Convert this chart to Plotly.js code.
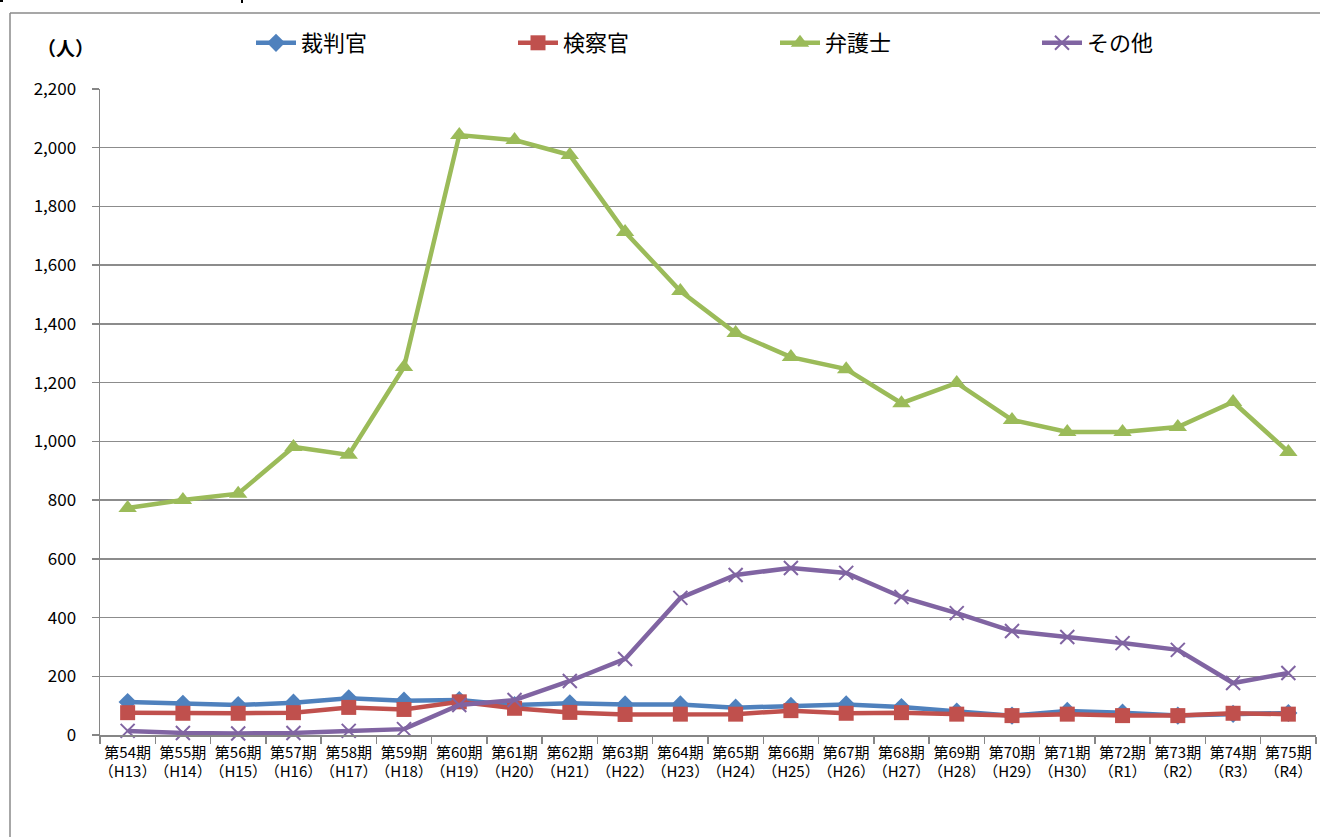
<!DOCTYPE html>
<html>
<head>
<meta charset="utf-8">
<script src="https://cdn.plot.ly/plotly-3.0.1.min.js"></script>
<style>html,body{margin:0;padding:0;background:#fff;}#chart{width:1320px;height:837px;}</style>
</head>
<body>
<div id="chart"></div>
<script>
const terms = ["第54期","第55期","第56期","第57期","第58期","第59期","第60期","第61期","第62期","第63期","第64期","第65期","第66期","第67期","第68期","第69期","第70期","第71期","第72期","第73期","第74期","第75期"];
const years = ["（H13）","（H14）","（H15）","（H16）","（H17）","（H18）","（H19）","（H20）","（H21）","（H22）","（H23）","（H24）","（H25）","（H26）","（H27）","（H28）","（H29）","（H30）","（R1）","（R2）","（R3）","（R4）"];
const judges      = [112,106,102,110,125,117,119,102,108,104,104,93,99,104,95,80,66,82,76,66,72,75];
const prosecutors = [76,74,74,76,94,87,113,91,77,70,71,71,83,74,76,71,66,71,66,66,74,71];
const lawyers     = [773,800,822,981,954,1253,2043,2026,1975,1713,1512,1369,1287,1246,1130,1199,1073,1032,1032,1049,1134,964];
const others      = [14,7,5,7,14,20,102,119,184,259,467,545,569,552,470,415,354,334,313,290,177,211];
const seriesNames = ["裁判官","検察官","弁護士","その他"];
const yTicks = [0,200,400,600,800,1000,1200,1400,1600,1800,2000,2200];

const font = '"Noto Sans CJK JP", "Noto Sans", sans-serif';
const x = terms.map((t,i)=> t + "<br>" + years[i]);

function tr(name, y, color, symbol, size){
  return {type:'scatter', mode:'lines+markers', name:name, x:x, y:y,
    line:{color:color, width:4.5},
    marker:{color:color, symbol:symbol, size:size, line:{color:color, width: symbol==='x-thin'?2:0}},
    cliponaxis:false};
}
const data = [
  tr(seriesNames[0], judges, '#4F81BD', 'diamond', 14),
  tr(seriesNames[1], prosecutors, '#C0504D', 'square', 15),
  tr(seriesNames[2], lawyers, '#9BBB59', 'triangle-up', 16),
  tr(seriesNames[3], others, '#8064A2', 'x-thin', 14)
];

const layout = {
  width:1320, height:837,
  margin:{l:100, r:4, t:89, b:102, autoexpand:false},
  paper_bgcolor:'#fff', plot_bgcolor:'#fff',
  font:{family:font, color:'#000'},
  showlegend:true,
  legend:{orientation:'h', xref:'container', yref:'container', x:251/1320, y:1-22/837, xanchor:'left', yanchor:'top',
    font:{size:22, family:font, color:'#000'}, entrywidth:207, entrywidthmode:'pixels', bgcolor:'rgba(0,0,0,0)',
    itemwidth:40, borderwidth:0},
  xaxis:{type:'category', tickmode:'array', tickvals:x, ticktext:x,
    showline:true, linecolor:'#868686', linewidth:1.5, ticks:'outside', ticklen:7, tickcolor:'#868686', tickwidth:1.5,
    tickson:'boundaries', showgrid:false, tickfont:{size:15, family:font, color:'#000'}, tickangle:0,
    ticklabelstandoff:3, range:[-0.5, 21.5], fixedrange:true},
  yaxis:{range:[0,2200], tickmode:'array', tickvals:yTicks, ticktext:yTicks.map(v=>v.toLocaleString('en-US')),
    showline:true, linecolor:'#868686', linewidth:1.5, ticks:'outside', ticklen:7, tickcolor:'#868686', tickwidth:1.5,
    showgrid:true, gridcolor:'#8c8c8c', gridwidth:1.5, zeroline:false,
    tickfont:{size:17, family:font, color:'#000'}, ticklabelstandoff:12, fixedrange:true},
  annotations:[{xref:'paper', yref:'paper', x:(65-100)/1216, y:1+(89-48)/646, text:'<b>（人）</b>', showarrow:false,
    font:{size:19, family:font, color:'#000'}, xanchor:'center', yanchor:'middle'}],
  shapes:[
    {type:'line', xref:'paper', yref:'paper', x0:-90/1216, x1:1.01, y0:1+76/646, y1:1+76/646, line:{color:'#8a8a8a', width:1.5}},
    {type:'line', xref:'paper', yref:'paper', x0:-90/1216, x1:-90/1216, y0:1+76/646, y1:-102/646-0.01, line:{color:'#8a8a8a', width:1.5}},
    {type:'line', xref:'paper', yref:'paper', x0:-100/1216, x1:-97/1216, y0:1+88/646, y1:1+88/646, line:{color:'#000', width:2}},
    {type:'line', xref:'paper', yref:'paper', x0:142/1216, x1:142/1216, y0:1+89/646, y1:1+86/646, line:{color:'#000', width:2}}
  ]
};

Plotly.newPlot('chart', data, layout, {displayModeBar:false, staticPlot:true});
</script>
</body>
</html>
